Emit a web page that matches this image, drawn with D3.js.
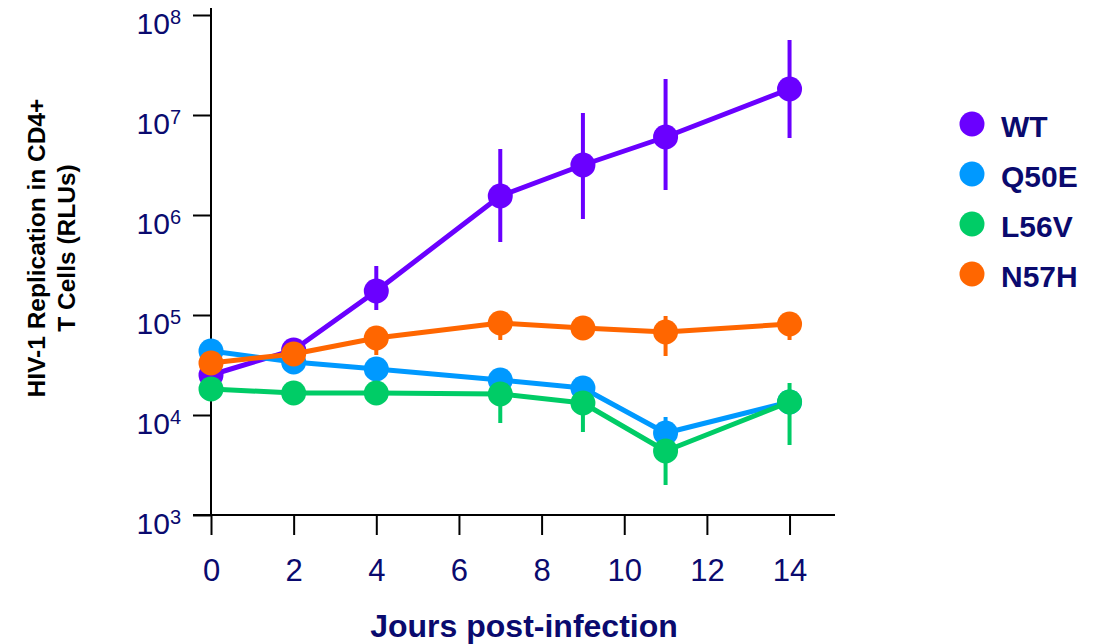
<!DOCTYPE html>
<html>
<head>
<meta charset="utf-8">
<script src="https://cdn.jsdelivr.net/npm/d3@7"></script>
<style>
  body { margin: 0; background: #fff; }
  svg { font-family: "Liberation Sans", Arial, sans-serif; }
</style>
</head>
<body>
<svg width="1105" height="644"></svg>
<script>
// days post infection
const days = [0, 2, 4, 7, 9, 11, 14];

// log10 of RLUs
const wtMean = [4.40, 4.65, 5.24, 6.19, 6.50, 6.78, 7.26];
const wtHi   = [4.40, 4.65, 5.49, 6.66, 7.02, 7.36, 7.75];
const wtLo   = [4.40, 4.65, 5.05, 5.73, 5.96, 6.25, 6.77];

const q50eMean = [4.64, 4.53, 4.46, 4.35, 4.27, 3.82, 4.13];
const q50eHi   = [4.64, 4.53, 4.46, 4.35, 4.27, 3.98, 4.13];
const q50eLo   = [4.64, 4.53, 4.46, 4.35, 4.27, 3.82, 4.13];

const l56vMean = [4.26, 4.22, 4.22, 4.21, 4.12, 3.64, 4.13];
const l56vHi   = [4.26, 4.22, 4.22, 4.21, 4.12, 3.64, 4.32];
const l56vLo   = [4.26, 4.22, 4.22, 3.92, 3.83, 3.30, 3.70];

const n57hMean = [4.52, 4.61, 4.77, 4.92, 4.87, 4.83, 4.91];
const n57hHi   = [4.52, 4.61, 4.77, 4.92, 4.87, 4.99, 4.91];
const n57hLo   = [4.52, 4.61, 4.60, 4.75, 4.87, 4.59, 4.75];

const seriesNames = ["WT", "Q50E", "L56V", "N57H"];
const seriesColors = ["#6a00ff", "#0099ff", "#00cc66", "#ff6600"];

const xTicks = [0, 2, 4, 6, 8, 10, 12, 14];
const yExps = [3, 4, 5, 6, 7, 8];

const series = [
  { name: "WT", mean: wtMean, hi: wtHi, lo: wtLo },
  { name: "Q50E", mean: q50eMean, hi: q50eHi, lo: q50eLo },
  { name: "L56V", mean: l56vMean, hi: l56vHi, lo: l56vLo },
  { name: "N57H", mean: n57hMean, hi: n57hHi, lo: n57hLo }
];

const svg = d3.select("svg");
const navy = "#0a0a6e";

const x = d3.scaleLinear().domain([0, 15.1]).range([211, 835]);
const y = d3.scaleLog().domain([1e3, 1e8]).range([515, 15]);

// x axis
const xAxis = svg.append("g")
  .attr("transform", "translate(0,515)")
  .call(d3.axisBottom(x).tickValues(xTicks).tickSize(20).tickSizeOuter(0).tickPadding(24));
xAxis.select(".domain").attr("stroke", "#000").attr("stroke-width", 2)
  .attr("d", "M193,0H835");
xAxis.selectAll(".tick line").attr("stroke", "#000").attr("stroke-width", 2);
xAxis.selectAll(".tick text")
  .attr("fill", navy)
  .style("font-size", "31px")
  .style("font-family", "Liberation Sans, Arial, sans-serif");

// y axis
const yAxis = svg.append("g")
  .attr("transform", "translate(211,0)")
  .call(d3.axisLeft(y).tickValues(yExps.map(e => Math.pow(10, e))).tickSize(18).tickSizeOuter(0).tickFormat(""));
yAxis.select(".domain").attr("stroke", "#000").attr("stroke-width", 2)
  .attr("d", "M0,8V515");
yAxis.selectAll(".tick line").attr("stroke", "#000").attr("stroke-width", 2);

const yLab = yAxis.selectAll(".tick").append("text")
  .attr("x", -30)
  .attr("y", 18)
  .attr("text-anchor", "end")
  .attr("fill", navy)
  .style("font-size", "30px")
  .style("font-family", "Liberation Sans, Arial, sans-serif");
yLab.append("tspan").text("10");
yLab.append("tspan")
  .attr("dy", -10)
  .style("font-size", "20px")
  .text(d => Math.round(Math.log10(d)));

// series
const line = d3.line()
  .x((d, i) => x(days[i]))
  .y(d => y(Math.pow(10, d)));

series.forEach((s, k) => {
  const g = svg.append("g");
  const col = seriesColors[k];
  g.append("path")
    .attr("d", line(s.mean))
    .attr("fill", "none")
    .attr("stroke", col)
    .attr("stroke-width", 5)
    .attr("stroke-linejoin", "round");
  g.selectAll(".err")
    .data(days)
    .join("line")
    .attr("x1", d => x(d)).attr("x2", d => x(d))
    .attr("y1", (d, i) => y(Math.pow(10, s.hi[i])))
    .attr("y2", (d, i) => y(Math.pow(10, s.lo[i])))
    .attr("stroke", col)
    .attr("stroke-width", 4);
  g.selectAll("circle")
    .data(days)
    .join("circle")
    .attr("cx", d => x(d))
    .attr("cy", (d, i) => y(Math.pow(10, s.mean[i])))
    .attr("r", 12.5)
    .attr("fill", col);
});

// legend
const leg = svg.append("g");
seriesNames.forEach((n, i) => {
  const cy = 124 + i * 50;
  leg.append("circle").attr("cx", 972).attr("cy", cy).attr("r", 12.5).attr("fill", seriesColors[i]);
  leg.append("text")
    .attr("x", 1001).attr("y", cy + 13)
    .attr("fill", navy)
    .style("font-size", "30px")
    .style("font-weight", "bold")
    .text(n);
});

// axis titles
svg.append("text")
  .attr("x", 524).attr("y", 637)
  .attr("text-anchor", "middle")
  .attr("fill", navy)
  .style("font-size", "32px")
  .style("font-weight", "bold")
  .text("Jours post-infection");

const yt = svg.append("text")
  .attr("transform", "translate(0,248) rotate(-90)")
  .attr("text-anchor", "middle")
  .attr("fill", "#000")
  .style("font-size", "24.5px")
  .style("font-weight", "bold");
yt.append("tspan").attr("x", 0).attr("y", 45).text("HIV-1 Replication in CD4+");
yt.append("tspan").attr("x", 0).attr("y", 75).text("T Cells (RLUs)");
</script>
</body>
</html>
